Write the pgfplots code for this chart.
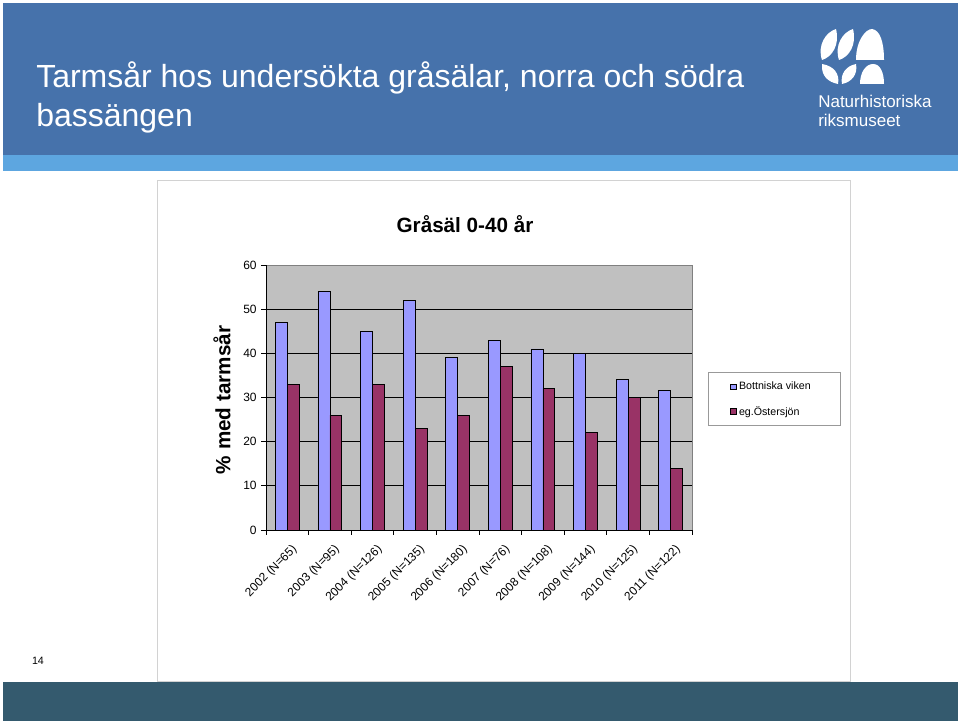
\documentclass[border=0pt]{standalone}
\usepackage{pgfplots}
\pgfplotsset{compat=1.18}
\usepackage{fontspec}
\setmainfont{Liberation Sans}
\definecolor{bannerblue}{HTML}{4672AB}
\definecolor{bandblue}{HTML}{5DA6E0}
\definecolor{bottombar}{HTML}{345A6E}
\definecolor{plotgray}{HTML}{C0C0C0}
\definecolor{bblue}{HTML}{9999FF}
\definecolor{maroon}{HTML}{993366}
\begin{document}
\begin{tikzpicture}[x=0.75pt,y=-0.75pt]
\useasboundingbox (0,0) rectangle (960,724);
\fill[white] (0,0) rectangle (960,724);
% banner
\fill[bannerblue] (3,3) rectangle (958,155);
\fill[bandblue] (3,155) rectangle (958,171);
\node[anchor=base west, text=white, font=\fontsize{24}{28}\selectfont, inner sep=0pt] at (36,88) {Tarmsår hos undersökta gråsälar, norra och södra};
\node[anchor=base west, text=white, font=\fontsize{24}{28}\selectfont, inner sep=0pt] at (36,127) {bassängen};
% logo
\begin{scope}[white]
\fill (822,60) .. controls (817,45) and (826,32) .. (836,29) .. controls (840,45) and (832,57) .. cycle;
\fill (839,60) .. controls (834,45) and (843,32) .. (853,29) .. controls (857,45) and (849,57) .. cycle;
\fill (856,60) .. controls (856,40) and (866,29) .. (872,29) .. controls (880,30) and (884,42) .. (884,60) -- cycle;
\fill (822,64) .. controls (834,66) and (840,74) .. (838,84) .. controls (828,82) and (821,76) .. cycle;
\fill (842,84) .. controls (840,74) and (846,66) .. (856,64) .. controls (858,74) and (852,82) .. cycle;
\fill (860,84) .. controls (860,72) and (866,64) .. (873,64) .. controls (880,64) and (884,72) .. (884,84) -- cycle;
\end{scope}
\node[anchor=base west, text=white, font=\fontsize{12.75}{14}\selectfont, inner sep=0pt] at (818,108) {Naturhistoriska};
\node[anchor=base west, text=white, font=\fontsize{12.75}{14}\selectfont, inner sep=0pt] at (818,127) {riksmuseet};
% chart frame
\draw[gray!35, fill=white] (157,180) rectangle (850,681);
% bottom bar
\fill[bottombar] (3,682) rectangle (958,721);
\node[anchor=base, font=\fontsize{8}{10}\selectfont, inner sep=0pt] at (38,664) {14};
% chart title and y label
\node[font=\bfseries\fontsize{15.5}{18}\selectfont] at (465,224) {Gråsäl 0-40 år};
\node[font=\bfseries\fontsize{15.5}{18}\selectfont, rotate=90] at (222,400) {\% med tarmsår};
% legend box
\draw[gray!80, line width=0.6pt] (708,372) rectangle (840,425);
\begin{axis}[
  at={(199.5pt,-397.5pt)}, anchor=south west,
  scale only axis, width=319.5pt, height=198.75pt,
  xmin=-0.5, xmax=9.5, ymin=0, ymax=60,
  axis background/.style={fill=plotgray, draw=gray},
  axis x line*=bottom, axis y line*=left,
  x axis line style={-, black, line width=0.7pt},
  y axis line style={-, black, line width=0.7pt},
  ytick={0,10,...,60},
  xtick={-0.5,0.5,...,9.5}, xticklabels={},
  tick align=outside, major tick length=3.5pt,
  tick style={black, line width=0.6pt},
  extra y ticks={10,20,30,40,50}, extra y tick labels={},
  extra y tick style={ymajorgrids=true, major tick length=0pt},
  grid style={black, line width=0.6pt},
  extra x ticks={0,1,...,9},
  extra x tick labels={2002 (N=65),2003 (N=95),2004 (N=126),2005 (N=135),2006 (N=180),2007 (N=76),2008 (N=108),2009 (N=144),2010 (N=125),2011 (N=122)},
  extra x tick style={major tick length=0pt, xticklabel style={rotate=45, anchor=north east, inner sep=0pt, xshift=-5pt, yshift=-9pt}},
  xticklabel style={font=\fontsize{9}{11}\selectfont},
  yticklabel style={font=\fontsize{9}{11}\selectfont},
  /pgf/number format/assume math mode=true,
  legend style={at={(1.085,0.575)}, anchor=north west, draw=none, fill=none,
    font=\fontsize{8}{10}\selectfont, row sep=7pt, inner sep=1pt},
  legend cell align=left,
  legend image code/.code={\draw[#1, line width=0.5pt] (0pt,-2.2pt) rectangle (4.4pt,2.2pt);},
]
\addplot[ybar, bar width=0.28, bar shift=-0.14, fill=bblue, draw=black, line width=0.6pt]
  coordinates {(0,47) (1,54) (2,45) (3,52) (4,39) (5,43) (6,41) (7,40) (8,34) (9,31.5)};
\addplot[ybar, bar width=0.28, bar shift=0.14, fill=maroon, draw=black, line width=0.6pt]
  coordinates {(0,33) (1,26) (2,33) (3,23) (4,26) (5,37) (6,32) (7,22) (8,30) (9,14)};
\legend{Bottniska viken, eg.Östersjön}
\end{axis}
\end{tikzpicture}
\end{document}
